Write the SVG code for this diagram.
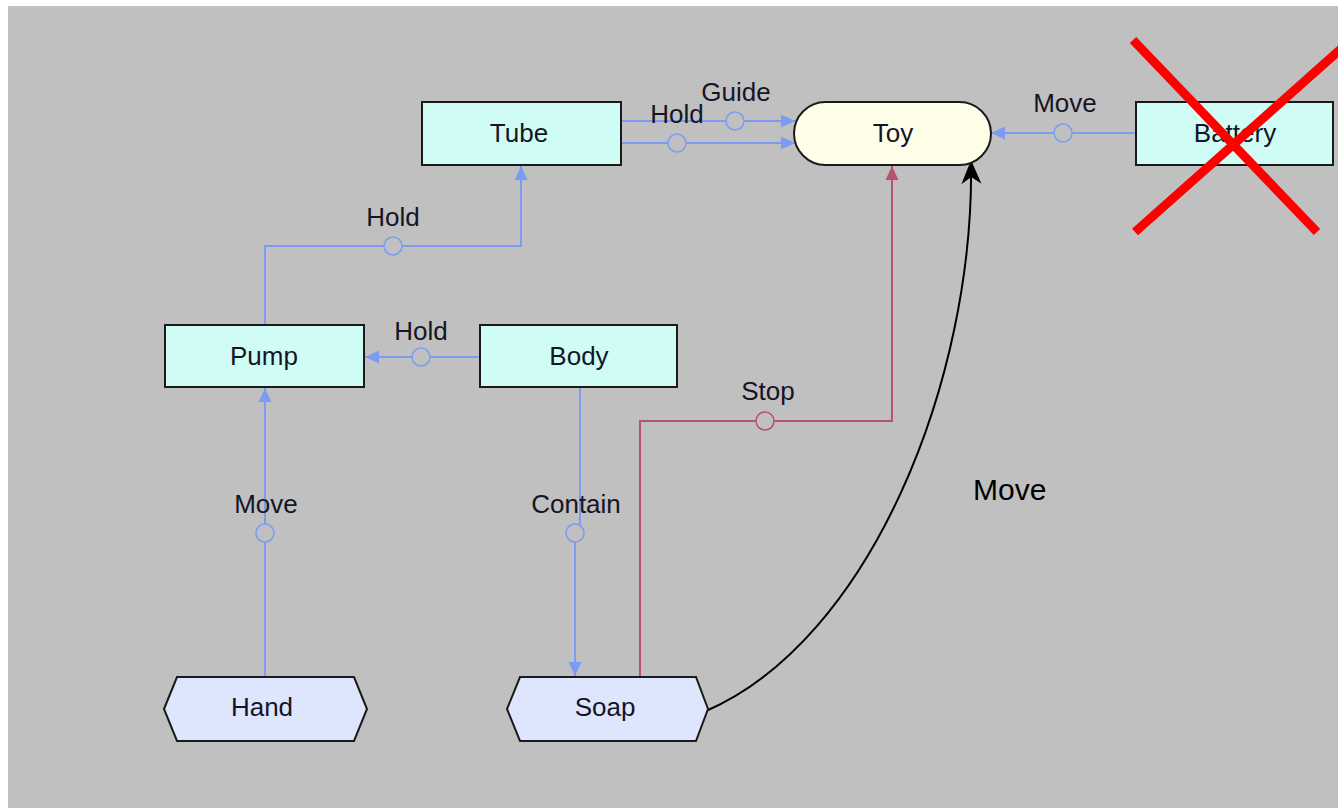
<svg xmlns="http://www.w3.org/2000/svg" width="1338" height="808" viewBox="0 0 1338 808">
<style>
.bg{fill:#c0c0c0}
.box{fill:#cffdf5;stroke:#1a1a1a;stroke-width:2}
.toy{fill:#fefee9;stroke:#1a1a1a;stroke-width:2}
.hex{fill:#dee6fe;stroke:#1a1a1a;stroke-width:2}
.t{font-family:"Liberation Sans",Arial,sans-serif;font-size:26px;fill:#151525;text-anchor:middle}
.lbl{font-family:"Liberation Sans",Arial,sans-serif;font-size:26px;fill:#151525;text-anchor:middle}
.big{font-family:"Liberation Sans",Arial,sans-serif;font-size:30px;fill:#000}
.blue{fill:none;stroke:#7b9cf2;stroke-width:2}
.red{fill:none;stroke:#b4546f;stroke-width:2}
.cb{fill:#c0c0c0;stroke:#7b9cf2;stroke-width:1.5}
.cr{fill:#c0c0c0;stroke:#b4546f;stroke-width:1.5}
.curve{fill:none;stroke:#000;stroke-width:2}
.x{stroke:#ff0000;stroke-width:9;stroke-linecap:butt}
</style>
<defs>
<marker id="ab" markerUnits="userSpaceOnUse" markerWidth="15" markerHeight="15" refX="14" refY="7" orient="auto">
<path d="M0,0.5 L14,7 L0,13.5 Z" fill="#7b9cf2"/>
</marker>
<marker id="ar" markerUnits="userSpaceOnUse" markerWidth="15" markerHeight="15" refX="14" refY="7" orient="auto">
<path d="M0,0.5 L14,7 L0,13.5 Z" fill="#b4546f"/>
</marker>
<marker id="ak" markerUnits="userSpaceOnUse" markerWidth="26" markerHeight="24" refX="24" refY="12" orient="auto">
<path d="M0,2 L24,12 L0,22 L7,12 Z" fill="#000"/>
</marker>
</defs>
<rect x="0" y="0" width="1338" height="808" fill="#ffffff"/>
<rect class="bg" x="8" y="6" width="1330" height="802"/>

<g id="connectors">
<path class="blue" d="M621,121 H795" marker-end="url(#ab)"/>
<circle class="cb" cx="735" cy="121" r="9"/>
<text class="lbl" x="736" y="101">Guide</text>
<path class="blue" d="M621,143 H795" marker-end="url(#ab)"/>
<circle class="cb" cx="677" cy="143" r="9"/>
<text class="lbl" x="677" y="123">Hold</text>
<path class="blue" d="M1136,133 H991" marker-end="url(#ab)"/>
<circle class="cb" cx="1063" cy="133" r="9"/>
<text class="lbl" x="1065" y="112">Move</text>
<path class="blue" d="M265,325 V246 H521 V166" marker-end="url(#ab)"/>
<circle class="cb" cx="393" cy="246" r="9"/>
<text class="lbl" x="393" y="226">Hold</text>
<path class="blue" d="M480,357 H365" marker-end="url(#ab)"/>
<circle class="cb" cx="421" cy="357" r="9"/>
<text class="lbl" x="421" y="340">Hold</text>
<path class="blue" d="M265,677 V388" marker-end="url(#ab)"/>
<circle class="cb" cx="265" cy="533" r="9"/>
<text class="lbl" x="266" y="513">Move</text>
<path class="blue" d="M580,388 V523 L575,533 V676" marker-end="url(#ab)"/>
<circle class="cb" cx="575" cy="533" r="9"/>
<text class="lbl" x="576" y="513">Contain</text>
<path class="red" d="M640,677 V421 H892 V166" marker-end="url(#ar)"/>
<circle class="cr" cx="765" cy="421" r="9"/>
<text class="lbl" x="768" y="400">Stop</text>
<path class="curve" d="M706,711 C870,640 975,380 971,160" marker-end="url(#ak)"/>
<text class="big" x="973" y="500">Move</text>
</g>

<g id="node-tube">
<rect class="box" x="422" y="102" width="199" height="63"/>
<text class="t" x="519" y="142">Tube</text>
</g>
<g id="node-toy">
<rect class="toy" x="794" y="102" width="197" height="63" rx="31.5" ry="31.5"/>
<text class="t" x="893" y="142">Toy</text>
</g>
<g id="node-battery">
<rect class="box" x="1136" y="102" width="197" height="63"/>
<text class="t" x="1235" y="142">Battery</text>
</g>
<g id="node-pump">
<rect class="box" x="165" y="325" width="199" height="62"/>
<text class="t" x="264" y="365">Pump</text>
</g>
<g id="node-body">
<rect class="box" x="480" y="325" width="197" height="62"/>
<text class="t" x="579" y="365">Body</text>
</g>
<g id="node-hand">
<polygon class="hex" points="164,709 177,677 354,677 367,709 354,741 177,741"/>
<text class="t" x="262" y="716">Hand</text>
</g>
<g id="node-soap">
<polygon class="hex" points="507,709 520,677 696,677 708,709 696,741 520,741"/>
<text class="t" x="605" y="716">Soap</text>
</g>
<g id="cross">
<line class="x" x1="1133" y1="40" x2="1317" y2="232"/>
<line class="x" x1="1135" y1="232" x2="1342" y2="48"/>
</g>
</svg>
